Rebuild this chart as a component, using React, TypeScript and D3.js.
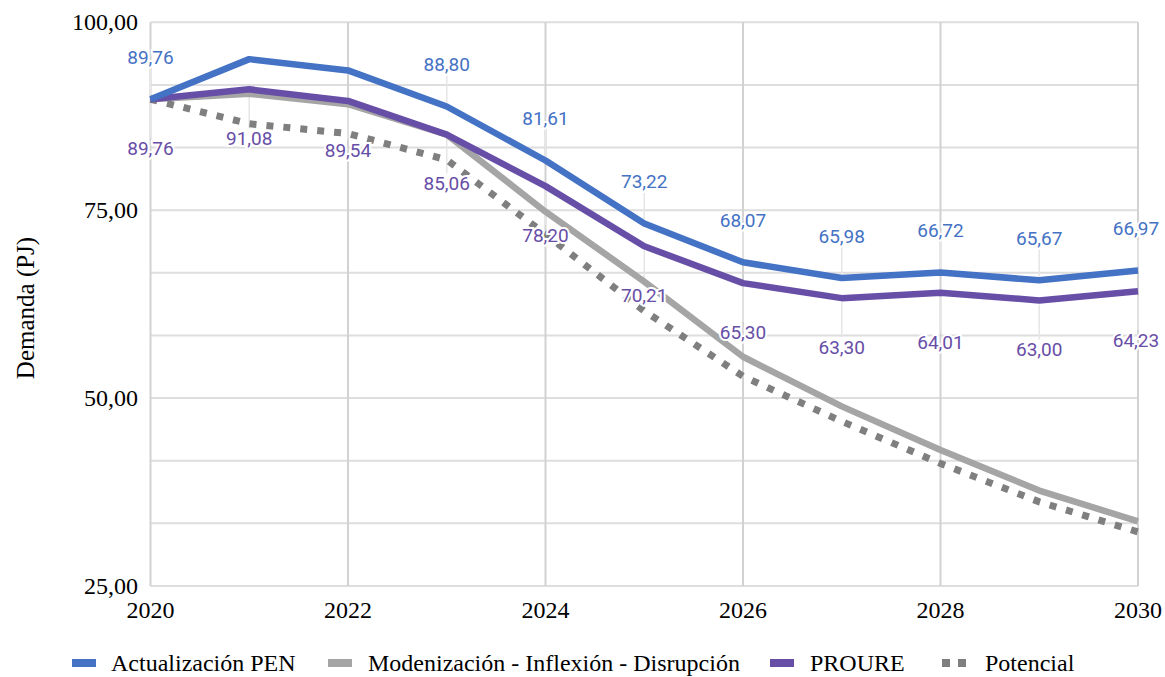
import React from "react";
import * as d3 from "d3";

const years = [2020, 2021, 2022, 2023, 2024, 2025, 2026, 2027, 2028, 2029, 2030];
const penValues = [89.76, 95.1, 93.6, 88.8, 81.61, 73.22, 68.07, 65.98, 66.72, 65.67, 66.97];
const modernValues = [89.76, 90.5, 89.1, 85.06, 74.8, 65.5, 55.5, 48.9, 43.1, 37.7, 33.6];
const proureValues = [89.76, 91.08, 89.54, 85.06, 78.2, 70.21, 65.3, 63.3, 64.01, 63.0, 64.23];
const potencialValues = [89.76, 86.5, 85.2, 81.7, 71.8, 61.6, 52.9, 46.9, 41.3, 36.2, 32.2];
const penLabelShown = [true, false, false, true, true, true, true, true, true, true, true];
const proureLabelShown = [true, true, true, true, true, true, true, true, true, true, true];
const xTicks = [2020, 2022, 2024, 2026, 2028, 2030];
const yTicks = [25, 50, 75, 100];
const yGrid = d3.range(0, 10).map((i) => 25 + (i * 25) / 3);
const seriesNames = ["Actualización PEN", "Modenización - Inflexión - Disrupción", "PROURE", "Potencial"];

const W = 1165;
const H = 677;
const BLUE = "#4472c4";
const GRAY = "#a5a5a5";
const PURPLE = "#674ea7";
const DOT = "#7f7f7f";
const SERIF = "'Liberation Serif', 'Times New Roman', serif";
const SANS = "Roboto, 'Noto Sans', sans-serif";

const fmt = (v: number) => d3.format(".2f")(v).replace(".", ",");

export default function App() {
  const x = d3.scaleLinear().domain([2020, 2030]).range([150.5, 1138]);
  const y = d3.scaleLinear().domain([25, 100]).range([586, 22.3]);
  const line = d3
    .line<number>()
    .x((_, i) => x(years[i]))
    .y((d) => y(d));

  const penLbl = penValues.map((v, i) => ({ v, i })).filter((d) => penLabelShown[d.i]);
  const proLbl = proureValues.map((v, i) => ({ v, i })).filter((d) => proureLabelShown[d.i]);

  const legendItems = [
    { name: seriesNames[0], color: BLUE, sx: 72, tx: 111, dotted: false },
    { name: seriesNames[1], color: GRAY, sx: 328, tx: 368, dotted: false },
    { name: seriesNames[2], color: PURPLE, sx: 770, tx: 810, dotted: false },
    { name: seriesNames[3], color: DOT, sx: 942, tx: 985, dotted: true },
  ];

  return (
    <svg
      width={W}
      height={H}
      style={{ position: "absolute", left: 0, top: 0, background: "#fff" }}
    >
      <rect x={0} y={0} width={W} height={H} fill="#fff" />
      {yGrid.map((g) => (
        <line key={"h" + g} x1={x(2020)} x2={x(2030)} y1={y(g)} y2={y(g)} stroke="#dedede" strokeWidth={2} />
      ))}
      {xTicks.map((t) => (
        <line key={"v" + t} x1={x(t)} x2={x(t)} y1={y(100)} y2={y(25)} stroke="#d2d2d2" strokeWidth={2} />
      ))}
      {yTicks.map((t) => (
        <text
          key={"yt" + t}
          x={138}
          y={y(t)}
          dy="0.33em"
          textAnchor="end"
          fontFamily={SERIF}
          fontSize={24}
          fill="#000"
        >
          {fmt(t)}
        </text>
      ))}
      {xTicks.map((t) => (
        <text
          key={"xt" + t}
          x={x(t)}
          y={610}
          dy="0.33em"
          textAnchor="middle"
          fontFamily={SERIF}
          fontSize={24}
          fill="#000"
        >
          {t}
        </text>
      ))}
      <text
        transform={`translate(26,${308}) rotate(-90)`}
        textAnchor="middle"
        dy="0.33em"
        fontFamily={SERIF}
        fontSize={25}
        fill="#000"
      >
        Demanda (PJ)
      </text>

      {penLbl.map((d) => (
        <line
          key={"pl" + d.i}
          x1={x(years[d.i])}
          x2={x(years[d.i])}
          y1={y(d.v) - 31}
          y2={y(d.v) - 4}
          stroke="#e6e6e6"
          strokeWidth={1.5}
        />
      ))}
      {proLbl.map((d) => (
        <line
          key={"ql" + d.i}
          x1={x(years[d.i])}
          x2={x(years[d.i])}
          y1={y(d.v) + 4}
          y2={y(d.v) + 39}
          stroke="#e6e6e6"
          strokeWidth={1.5}
        />
      ))}

      <path d={line(modernValues) || ""} fill="none" stroke={GRAY} strokeWidth={6.5} strokeLinejoin="round" />
      <path
        d={line(potencialValues) || ""}
        fill="none"
        stroke={DOT}
        strokeWidth={7}
        strokeDasharray="7 10"
        strokeLinejoin="miter"
      />
      <path d={line(proureValues) || ""} fill="none" stroke={PURPLE} strokeWidth={6.5} strokeLinejoin="round" />
      <path d={line(penValues) || ""} fill="none" stroke={BLUE} strokeWidth={6.5} strokeLinejoin="round" />

      {penLbl.map((d) => (
        <text
          key={"pt" + d.i}
          x={Math.min(x(years[d.i]), 1136)}
          y={y(d.v) - 42}
          dy="0.36em"
          textAnchor="middle"
          fontFamily={SANS}
          fontSize={19}
          fill={BLUE}
          stroke="#fff"
          strokeWidth={4}
          paintOrder="stroke"
        >
          {fmt(d.v)}
        </text>
      ))}
      {proLbl.map((d) => (
        <text
          key={"qt" + d.i}
          x={Math.min(x(years[d.i]), 1136)}
          y={y(d.v) + 49}
          dy="0.36em"
          textAnchor="middle"
          fontFamily={SANS}
          fontSize={19}
          fill={PURPLE}
          stroke="#fff"
          strokeWidth={4}
          paintOrder="stroke"
        >
          {fmt(d.v)}
        </text>
      ))}

      {legendItems.map((it) => (
        <g key={it.name}>
          {it.dotted ? (
            <>
              <rect x={it.sx} y={659} width={8} height={8} fill={it.color} />
              <rect x={it.sx + 16} y={659} width={8} height={8} fill={it.color} />
            </>
          ) : (
            <rect x={it.sx} y={659} width={24} height={8} fill={it.color} />
          )}
          <text x={it.tx} y={663} dy="0.33em" fontFamily={SERIF} fontSize={24} fill="#000">
            {it.name}
          </text>
        </g>
      ))}
    </svg>
  );
}
